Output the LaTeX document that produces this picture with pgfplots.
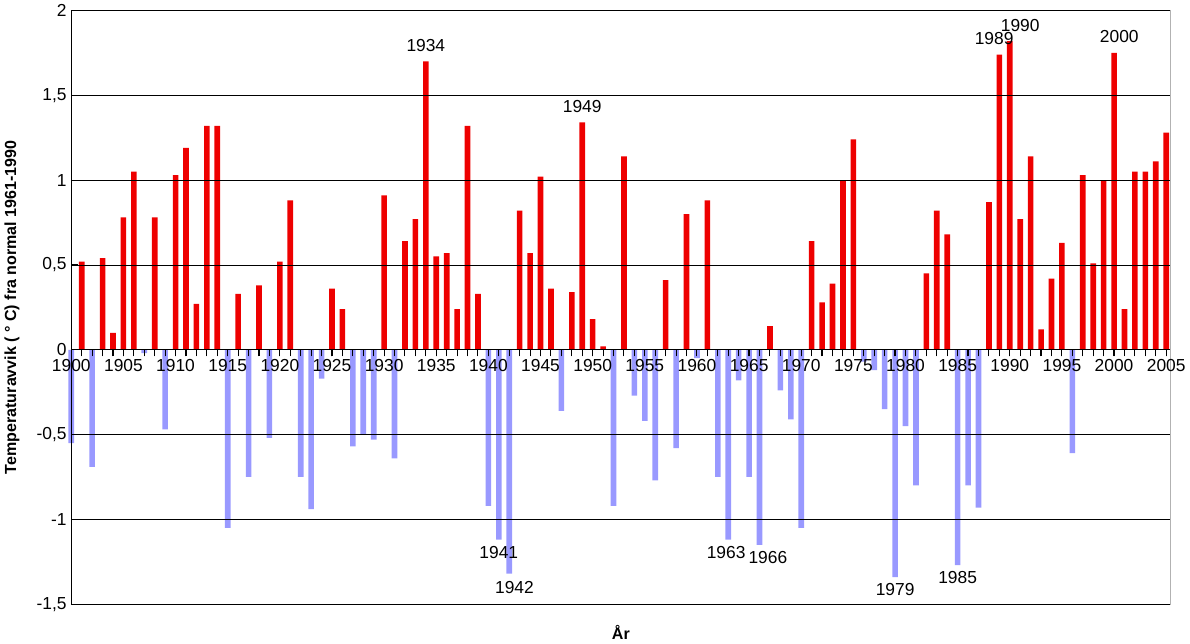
\documentclass[border=0pt]{standalone}
\usepackage{pgfplots}
\pgfplotsset{compat=1.18}
\usepackage{fontspec}
\setmainfont{Liberation Sans}
\definecolor{pos}{RGB}{238,0,0}
\definecolor{neg}{RGB}{153,153,255}
\begin{document}
\begin{tikzpicture}
\begin{axis}[
  width=822pt, height=444pt, scale only axis,
  xmin=1900, xmax=2005.4, ymin=-1.5, ymax=2,
  axis x line*=middle, axis y line*=left,
  hide obscured x ticks=false,
  xtick={1900,1905,...,2005}, minor xtick={1900,...,2005},
  xtick align=outside, major tick length=5pt, minor tick length=5pt,
  tick style={black, line width=0.8pt},
  x tick label style={/pgf/number format/1000 sep={}, font=\fontsize{13}{15}\selectfont, yshift=1pt},
  ytick={-1.5,-1,...,2},
  y tick label style={/pgf/number format/fixed, /pgf/number format/use comma, font=\fontsize{13}{15}\selectfont},
  /pgf/number format/assume math mode=true,
  ymajorgrids, grid style={black, line width=0.6pt},
  ylabel={\bfseries Temperaturavvik ( ° C) fra normal 1961-1990},
  ylabel style={font=\fontsize{12}{14}\selectfont, yshift=6pt},
  xlabel={\bfseries År}, xlabel style={font=\fontsize{12}{14}\selectfont, at={(axis description cs:0.5,0)}, anchor=north, yshift=-12pt},
  clip=false, axis on top,
  every axis plot/.append style={ybar, bar width=4.2pt, draw=none, bar shift=0pt},
]
\draw[gray!60] (rel axis cs:0,0) rectangle (rel axis cs:1,1);
\addplot[fill=pos] coordinates {
(1901,0.52)(1903,0.54)(1904,0.10)(1905,0.78)(1906,1.05)(1908,0.78)(1910,1.03)(1911,1.19)(1912,0.27)(1913,1.32)(1914,1.32)
(1916,0.33)(1918,0.38)(1920,0.52)(1921,0.88)(1925,0.36)(1926,0.24)(1930,0.91)(1932,0.64)(1933,0.77)(1934,1.70)
(1935,0.55)(1936,0.57)(1937,0.24)(1938,1.32)(1939,0.33)(1943,0.82)(1944,0.57)(1945,1.02)(1946,0.36)(1948,0.34)
(1949,1.34)(1950,0.18)(1951,0.02)(1953,1.14)(1957,0.41)(1959,0.80)(1961,0.88)(1967,0.14)(1971,0.64)(1972,0.28)
(1973,0.39)(1974,1.00)(1975,1.24)(1982,0.45)(1983,0.82)(1984,0.68)(1988,0.87)(1989,1.74)(1990,1.82)(1991,0.77)
(1992,1.14)(1993,0.12)(1994,0.42)(1995,0.63)(1997,1.03)(1998,0.51)(1999,1.00)(2000,1.75)(2001,0.24)(2002,1.05)
(2003,1.05)(2004,1.11)(2005,1.28)};
\addplot[fill=neg] coordinates {
(1900,-0.55)(1902,-0.69)(1907,-0.02)(1909,-0.47)(1915,-1.05)(1917,-0.75)(1919,-0.52)(1922,-0.75)(1923,-0.94)
(1924,-0.17)(1927,-0.57)(1928,-0.50)(1929,-0.53)(1931,-0.64)(1940,-0.92)(1941,-1.12)(1942,-1.32)(1947,-0.36)
(1952,-0.92)(1954,-0.27)(1955,-0.42)(1956,-0.77)(1958,-0.58)(1960,-0.05)(1962,-0.75)(1963,-1.12)(1964,-0.18)
(1965,-0.75)(1966,-1.15)(1968,-0.24)(1969,-0.41)(1970,-1.05)(1976,-0.07)(1977,-0.12)(1978,-0.35)(1979,-1.34)
(1980,-0.45)(1981,-0.80)(1985,-1.27)(1986,-0.80)(1987,-0.93)(1996,-0.61)};
\node[anchor=south,font=\fontsize{13}{15}\selectfont] at (axis cs:1934,1.73) {1934};
\node[anchor=south,font=\fontsize{13}{15}\selectfont] at (axis cs:1949,1.37) {1949};
\node[anchor=south,font=\fontsize{13}{15}\selectfont] at (axis cs:1988.5,1.77) {1989};
\node[anchor=south,font=\fontsize{13}{15}\selectfont] at (axis cs:1991,1.85) {1990};
\node[anchor=south,font=\fontsize{13}{15}\selectfont] at (axis cs:2000.5,1.78) {2000};
\node[anchor=north,font=\fontsize{13}{15}\selectfont] at (axis cs:1941,-1.13) {1941};
\node[anchor=north,font=\fontsize{13}{15}\selectfont] at (axis cs:1942.5,-1.34) {1942};
\node[anchor=north,font=\fontsize{13}{15}\selectfont] at (axis cs:1962.8,-1.13) {1963};
\node[anchor=north,font=\fontsize{13}{15}\selectfont] at (axis cs:1966.8,-1.16) {1966};
\node[anchor=north,font=\fontsize{13}{15}\selectfont] at (axis cs:1979,-1.35) {1979};
\node[anchor=north,font=\fontsize{13}{15}\selectfont] at (axis cs:1985,-1.28) {1985};
\end{axis}
\end{tikzpicture}
\end{document}
